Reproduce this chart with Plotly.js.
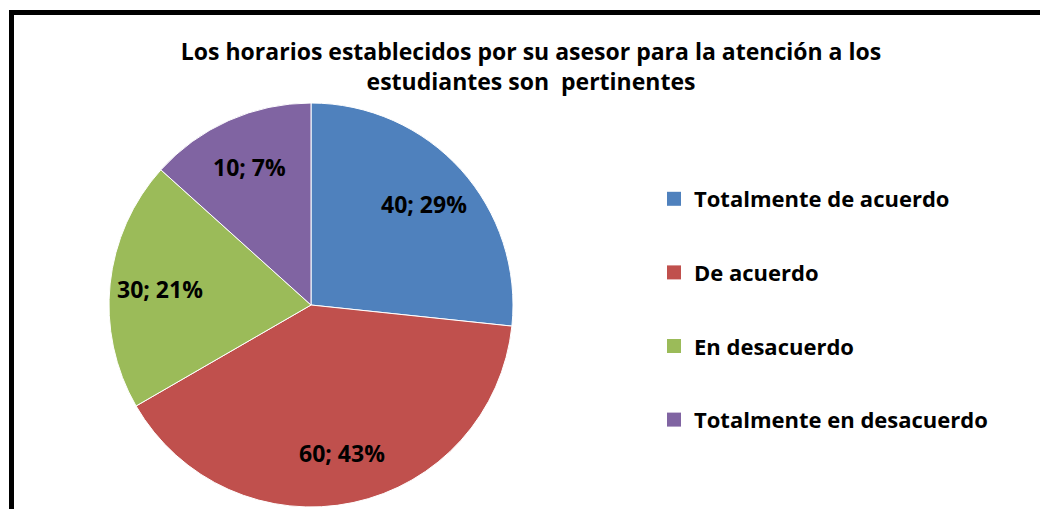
<!DOCTYPE html>
<html>
<head>
<meta charset="utf-8">
<script src="https://cdn.plot.ly/plotly-3.0.1.min.js"></script>
<style>
  html, body { margin: 0; padding: 0; background: #fff; overflow: hidden; }
  #wrap { position: relative; width: 1040px; height: 509px; }
  #chart { width: 1040px; height: 509px; }
  #frame { position: absolute; left: 9px; top: 10px; width: 2000px; height: 2000px;
           border-top: 5px solid #000; border-left: 5px solid #000; pointer-events: none; }
</style>
</head>
<body>
<div id="wrap">
  <div id="chart"></div>
  <div id="frame"></div>
</div>
<script>
// Categories (legend order)
const categories = ["Totalmente de acuerdo", "De acuerdo", "En desacuerdo", "Totalmente en desacuerdo"];
// Slice sizes as drawn in the picture
const sliceValues = [40, 60, 30, 20];
// Values printed on the data labels
const labelCounts = [40, 60, 30, 10];
const colors = ["#4F81BD", "#C0504D", "#9BBB59", "#8064A2"];

const labelTotal = labelCounts.reduce((a, b) => a + b, 0);
const labelTexts = labelCounts.map(c => c + "; " + Math.round(100 * c / labelTotal) + "%");

const FONT = "'Open Sans', 'Noto Sans', sans-serif";
const W = 1040, H = 509;
const dom = { x: [109 / W, 513 / W], y: [2 / H, 406 / H] };

const pie = {
  type: "pie",
  labels: categories,
  values: sliceValues,
  textinfo: "none",
  sort: false,
  direction: "clockwise",
  rotation: 0,
  marker: { colors: colors, line: { color: "#ffffff", width: 1 } },
  domain: dom,
  showlegend: false,
  text: labelTexts,
  hoverinfo: "label+text"
};

// Data labels placed at each slice's mid-angle, 3/4 of the radius out
const cx = (dom.x[0] + dom.x[1]) / 2, cy = (dom.y[0] + dom.y[1]) / 2;
const rPx = Math.min((dom.x[1] - dom.x[0]) * W, (dom.y[1] - dom.y[0]) * H) / 2;
const sliceTotal = sliceValues.reduce((a, b) => a + b, 0);
let acc = 0;
const annotations = sliceValues.map((v, i) => {
  const mid = (acc + v / 2) / sliceTotal * 2 * Math.PI;
  acc += v;
  const r = 0.75 * rPx;
  return {
    xref: "paper", yref: "paper",
    x: cx + r * Math.sin(mid) / W,
    y: cy + r * Math.cos(mid) / H,
    text: labelTexts[i], showarrow: false,
    xanchor: "center", yanchor: "middle",
    font: { family: FONT, size: 23, color: "#000", weight: 700 }
  };
});

// Legend entries (one per category, spaced like the original legend)
const legendTraces = categories.map((c, i) => ({
  type: "scatter",
  x: [null], y: [null],
  mode: "markers",
  name: c,
  legendgroup: "g" + i,
  marker: { symbol: "square", size: 14, color: colors[i] },
  showlegend: true,
  hoverinfo: "skip"
}));

const layout = {
  width: W, height: H,
  margin: { l: 0, r: 0, t: 0, b: 0 },
  paper_bgcolor: "#fff",
  plot_bgcolor: "#fff",
  title: {
    text: "Los horarios establecidos por su asesor para la atención a los<br>estudiantes son  pertinentes",
    x: 531 / W, xanchor: "center", xref: "paper",
    y: 1 - 60 / H, yanchor: "top", yref: "container",
    font: { family: FONT, size: 23, color: "#000", weight: 700 }
  },
  annotations: annotations,
  xaxis: { visible: false },
  yaxis: { visible: false },
  showlegend: true,
  legend: {
    x: (674 - 20) / W, xanchor: "left",
    y: 1 - 178 / H, yanchor: "top",
    traceorder: "grouped",
    tracegroupgap: 42,
    font: { family: FONT, size: 22, color: "#000", weight: 700 },
    bgcolor: "rgba(0,0,0,0)"
  }
};

Plotly.newPlot("chart", [pie, ...legendTraces], layout, { displayModeBar: false });
</script>
</body>
</html>
